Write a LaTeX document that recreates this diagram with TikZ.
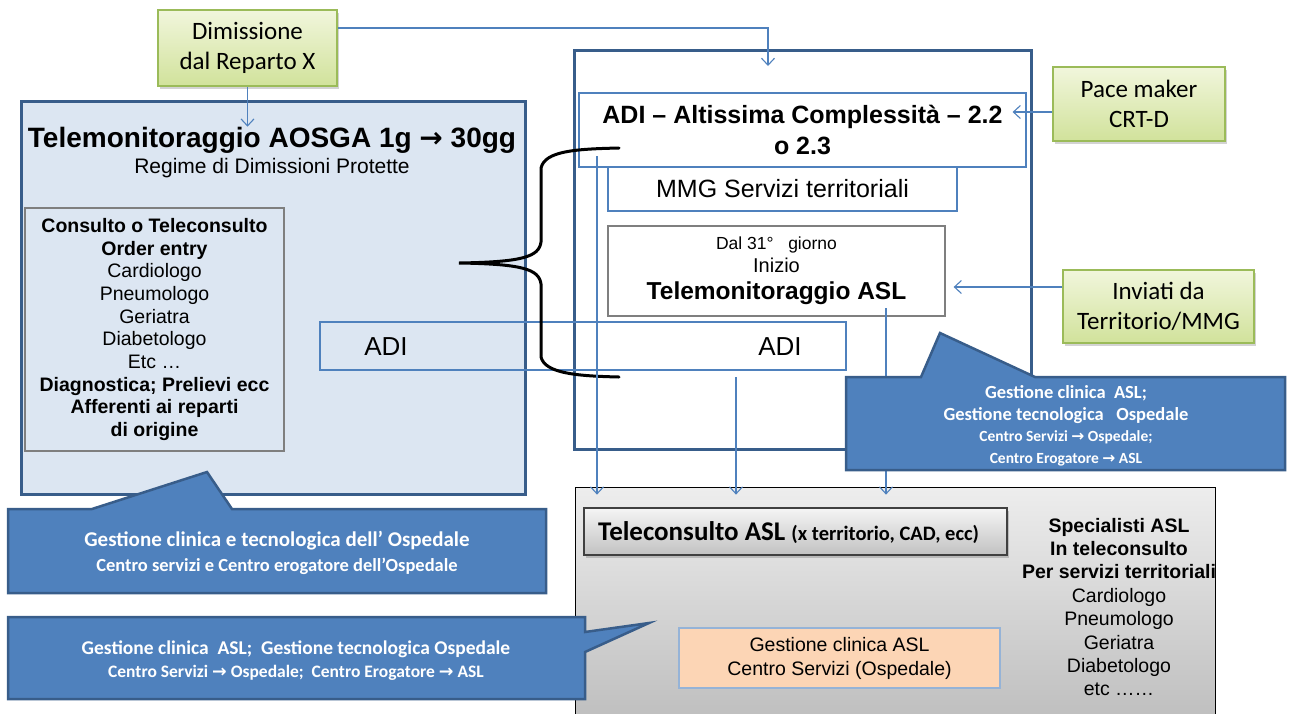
\documentclass[tikz,border=0pt]{standalone}
\usepackage{fontspec}
\setmainfont{Liberation Sans}
\newfontfamily\calibri{Carlito}
\newfontfamily\arrowfont{DejaVu Sans}
\usetikzlibrary{shadows}
\usetikzlibrary{arrows.meta}
\definecolor{adiblue}{HTML}{4F81BD}
\definecolor{adidark}{HTML}{385D8A}
\definecolor{aosgafill}{HTML}{DCE6F2}
\definecolor{greenedge}{HTML}{9BBB59}
\definecolor{greentop}{HTML}{F1F6DC}
\definecolor{greenbot}{HTML}{D1E29B}
\definecolor{boxgray}{HTML}{7F7F7F}
\definecolor{salmon}{HTML}{FCD5B5}
\definecolor{salmonedge}{HTML}{95B3D7}
\newcommand{\fsz}[2]{\fontsize{#1}{#2}\selectfont}
\newcommand{\ra}{{\arrowfont →}}

\begin{document}
\begin{tikzpicture}[x=1pt,y=-1pt,
	greenbox/.style={draw=greenedge, line width=1.5pt, top color=greentop, bottom color=greenbot,
		drop shadow={shadow xshift=2pt, shadow yshift=-3pt, opacity=.35},
		font=\calibri\fsz{25}{30}, align=center, inner sep=0pt},
	thinbox/.style={draw=adiblue, line width=1.2pt, inner sep=0pt, align=center},
	graybox/.style={draw=boxgray, line width=1.3pt, inner sep=0pt, align=center},
	bigbox/.style={draw=adidark, line width=3pt, inner sep=0pt},
	callout/.style={fill=adiblue, draw=adidark, line width=2.5pt, line join=miter},
	callouttext/.style={text=white, align=center, inner sep=0pt},
	link/.style={draw=adiblue, line width=1.1pt, -{Straight Barb[length=7pt,width=13pt]}}]
	\useasboundingbox (0,0) rectangle (1296,713);
	
	% Blocco ospedaliero (AOSGA)
	\node[bigbox, fill=aosgafill, minimum width=504pt, minimum height=393pt] (aosga) at (273,297.5) {};
	\node[font=\bfseries\fsz{28}{32}, inner sep=0pt] (aosgatitle) at (272,140) {Telemonitoraggio AOSGA 1g \ra{} 30gg};
	\node[font=\fsz{21}{25}, inner sep=0pt] (aosgasub) at (272,168) {Regime di Dimissioni Protette};
	\node[graybox, minimum width=259pt, minimum height=243pt, font=\fsz{19.5}{22.7}] (consulto) at (154.5,329.5)
		{\textbf{Consulto o Teleconsulto}\\\textbf{Order entry}\\Cardiologo\\Pneumologo\\Geriatra\\Diabetologo\\Etc …\\
		\textbf{Diagnostica; Prelievi ecc}\\\textbf{Afferenti ai reparti}\\\textbf{di origine}};
	
	% Blocco ADI
	\node[bigbox, fill=white, minimum width=457pt, minimum height=399pt] (adigroup) at (802.5,249.5) {};
	\node[thinbox, minimum width=447pt, minimum height=74pt, font=\bfseries\fsz{25}{31}] (adialt) at (802.5,130)
		{ADI – Altissima Complessità – 2.2\\o 2.3};
	\node[thinbox, minimum width=349pt, minimum height=44pt, font=\fsz{25}{30}] (mmg) at (782.5,189) {MMG Servizi territoriali};
	\node[graybox, minimum width=337pt, minimum height=90pt, font=\fsz{17.5}{23}] (dal31) at (776.5,271)
		{Dal 31°\ \ \ giorno\\\fsz{20}{23}Inizio\\[4pt]\fsz{24.5}{23}\bfseries Telemonitoraggio ASL};
	\node[thinbox, minimum width=526pt, minimum height=48pt] (adiwide) at (583,346) {};
	\node[font=\fsz{26}{30}] (adileft) at (386,347) {ADI};
	\node[font=\fsz{26}{30}] (adiright) at (780,347) {ADI};
	
	% parentesi graffa
	\draw[line width=3pt, line cap=round] (619,148) .. controls (575,149) and (545,151) .. (541,168) -- (541,242)
		.. controls (539,257) and (522,262) .. (459,263) .. controls (522,264) and (539,269) .. (541,284) -- (541,357)
		.. controls (545,373) and (575,376) .. (619,377);
	
	% Blocco teleconsulto ASL
	\node[draw=black, line width=.8pt, top color=black!7, bottom color=black!25, minimum width=640pt, minimum height=229pt] (grayarea) at (895,601.5) {};
	\node[draw=black!75, line width=1.5pt, top color=black!4, bottom color=black!24, minimum width=423pt, minimum height=47pt,
		drop shadow={shadow xshift=2pt, shadow yshift=-3pt, opacity=.4}] (teleasl) at (795.5,531.5) {};
	\node[font=\calibri\bfseries, inner sep=0pt, anchor=west] (teleasltext) at (598,533)
		{\fsz{27}{32}Teleconsulto ASL \fsz{20.5}{20}(x territorio, CAD, ecc)};
	\node[font=\fsz{19.5}{23.4}, align=center, inner sep=0pt] (specialisti) at (1119,607)
		{\textbf{Specialisti ASL}\\\textbf{In teleconsulto}\\\textbf{Per servizi territoriali}\\Cardiologo\\Pneumologo\\Geriatra\\Diabetologo\\etc ……};
	\node[draw=salmonedge, fill=salmon, line width=1.2pt, minimum width=321pt, minimum height=60pt, align=center, font=\fsz{19.5}{24}] (gestasl) at (839.5,658)
		{Gestione clinica ASL\\Centro Servizi (Ospedale)};
	
	% riquadri verdi
	\node[greenbox, minimum width=179pt, minimum height=76pt] (dimissione) at (247.5,48) {Dimissione\\dal Reparto X};
	\node[greenbox, minimum width=172pt, minimum height=74pt] (pacemaker) at (1139,104) {Pace maker\\CRT-D};
	\node[greenbox, minimum width=191pt, minimum height=73pt] (inviati) at (1158.5,306.5) {Inviati da\\Territorio/MMG};
	
	% collegamenti
	\coordinate (adientry) at (768,66);
	\coordinate (tap1) at (597,156);
	\coordinate (tap2) at (736,377);
	\coordinate (tap3) at (886,308);
	\draw[link] ([yshift=20pt]dimissione.east) -| (adientry);
	\draw[link] (dimissione.south) -- (dimissione.south |- aosgatitle.north);
	\draw[link, shorten >=-14pt] ([yshift=-8pt]pacemaker.west) -- ([yshift=-8pt]pacemaker.west -| adialt.east);
	\draw[link, shorten >=8pt] ([yshift=19.5pt]inviati.west) -- ([yshift=19.5pt]inviati.west -| dal31.east);
	\foreach \t in {tap1,tap2,tap3}
		\draw[link, shorten >=-8pt] (\t) -- (\t |- grayarea.north);
	
	% fumetti
	\filldraw[callout] (8,509) -- (92,509) -- (207,472) -- (232,509) -- (546,509) -- (546,593) -- (8,593) -- cycle;
	\node[callouttext, font=\calibri\bfseries\fsz{21}{25}] (calloutosp) at (277,553)
		{Gestione clinica e tecnologica dell’ Ospedale\\\fsz{18.5}{25}Centro servizi e Centro erogatore dell’Ospedale};
	\filldraw[callout] (8,617) -- (585,617) -- (585,632) -- (649,623) -- (585,652) -- (585,699) -- (8,699) -- cycle;
	\node[callouttext, font=\calibri\bfseries\fsz{19.5}{23}] (calloutasl) at (296,661)
		{Gestione clinica\ \ ASL;\ \ Gestione tecnologica Ospedale\\\fsz{17.5}{23}Centro Servizi \ra{} Ospedale;\ \ Centro Erogatore \ra{} ASL};
	\filldraw[callout] (846,377) -- (921,377) -- (940,333) -- (1035,377) -- (1285,377) -- (1285,470) -- (846,470) -- cycle;
	\node[callouttext, font=\calibri\bfseries\fsz{18.5}{21.5}] (calloutadi) at (1066,426)
		{Gestione clinica\ \ ASL;\\Gestione tecnologica\ \ \ Ospedale\\\fsz{15.5}{21}Centro Servizi \ra{} Ospedale;\\\fsz{15.5}{20}Centro Erogatore \ra{} ASL};
\end{tikzpicture}
\end{document}
